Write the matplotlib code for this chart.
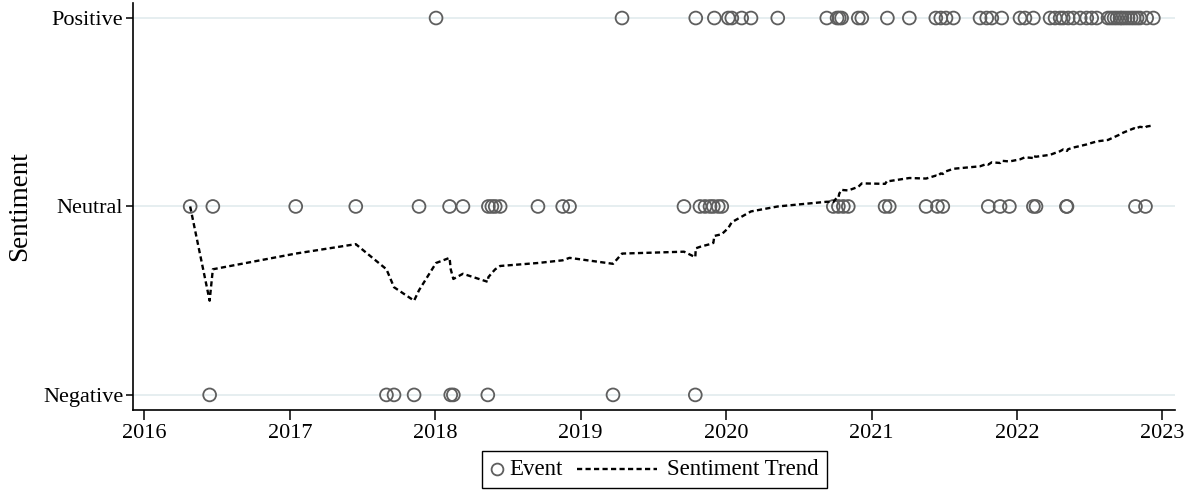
import numpy as np
import pandas as pd
import matplotlib
matplotlib.use("Agg")
import matplotlib.pyplot as plt
from matplotlib.lines import Line2D
from matplotlib.offsetbox import (AnchoredOffsetbox, DrawingArea, HPacker,
                                  TextArea)

plt.rcParams['font.family'] = ['Liberation Serif', 'DejaVu Serif']

# Event dates (decimal years)
negative_dates = [2016.448, 2017.664, 2017.716, 2017.854, 2018.106, 2018.124,
                  2018.361, 2019.222, 2019.788]
neutral_dates = [2016.314, 2016.470, 2017.040, 2017.453, 2017.888, 2018.098,
                 2018.190, 2018.365, 2018.389, 2018.412, 2018.446, 2018.706,
                 2018.876, 2018.923, 2019.710, 2019.820, 2019.855, 2019.889,
                 2019.912, 2019.946, 2019.970, 2020.737, 2020.772, 2020.806,
                 2020.840, 2021.093, 2021.122, 2021.375, 2021.453, 2021.490,
                 2021.803, 2021.884, 2021.948, 2022.113, 2022.131, 2022.340,
                 2022.344, 2022.815, 2022.884]
positive_dates = [2018.005, 2019.284, 2019.791, 2019.919, 2020.015, 2020.039,
                  2020.107, 2020.171, 2020.355, 2020.692, 2020.763, 2020.778,
                  2020.794, 2020.909, 2020.933, 2021.109, 2021.260, 2021.442,
                  2021.476, 2021.512, 2021.563, 2021.746, 2021.792, 2021.827,
                  2021.895, 2022.021, 2022.055, 2022.113, 2022.228, 2022.262,
                  2022.297, 2022.318, 2022.352, 2022.387, 2022.435, 2022.480,
                  2022.514, 2022.549, 2022.626, 2022.647, 2022.668, 2022.688,
                  2022.709, 2022.723, 2022.743, 2022.764, 2022.785, 2022.805,
                  2022.826, 2022.846, 2022.892, 2022.938]

sentiment_levels = [-1, 0, 1]
sentiment_labels = ["Negative", "Neutral", "Positive"]
year_ticks = [2016, 2017, 2018, 2019, 2020, 2021, 2022, 2023]

# Build event table
df = pd.concat([
    pd.DataFrame({"date": negative_dates, "sentiment": -1}),
    pd.DataFrame({"date": neutral_dates, "sentiment": 0}),
    pd.DataFrame({"date": positive_dates, "sentiment": 1}),
]).sort_values("date", kind="mergesort").reset_index(drop=True)
df["trend"] = df["sentiment"].expanding().mean()

EDGE = "#5e5e5e"
DASH = (0, (2.2, 1.4))

fig = plt.figure(figsize=(11.94, 4.9), dpi=100)
ax = fig.add_axes([0.1114, 0.1633, 0.8727, 0.8307])

for lv in sentiment_levels:
    ax.axhline(lv, color="#e6eef0", lw=1.4, zorder=0)

ax.scatter(df["date"], df["sentiment"], s=85, facecolors="none",
           edgecolors=EDGE, linewidths=1.3, zorder=3)
ax.plot(df["date"], df["trend"], color="black", lw=1.7,
        linestyle=DASH, zorder=4)

ax.set_xlim(2015.921, 2023.087)
ax.set_ylim(-1.08, 1.08)
ax.set_xticks(year_ticks)
ax.set_xticklabels([str(y) for y in year_ticks], fontsize=16)
ax.set_yticks(sentiment_levels)
ax.set_yticklabels(sentiment_labels, fontsize=16)
ax.set_ylabel("Sentiment", fontsize=19.5, labelpad=8)

for s in ["top", "right"]:
    ax.spines[s].set_visible(False)
for s in ["left", "bottom"]:
    ax.spines[s].set_linewidth(1.2)
    ax.spines[s].set_color("black")
ax.tick_params(axis="x", length=7, width=1.1, pad=3)
ax.tick_params(axis="y", length=5, width=1.1, pad=2)

# Legend: short marker key for Event, longer line key for the trend
da1 = DrawingArea(10, 12, 0, 0)
da1.add_artist(Line2D([5], [6], marker="o", linestyle="none",
                      markerfacecolor="none", markeredgecolor=EDGE,
                      markersize=8.5, markeredgewidth=1.3))
da2 = DrawingArea(58, 12, 0, 0)
da2.add_artist(Line2D([0, 58], [6, 6], color="black", lw=1.7, linestyle=DASH))
t1 = TextArea("Event", textprops=dict(fontsize=16.5))
t2 = TextArea("Sentiment Trend", textprops=dict(fontsize=16.5))
row = HPacker(children=[HPacker(children=[da1, t1], pad=0, sep=4, align="center"),
                        HPacker(children=[da2, t2], pad=0, sep=7, align="center")],
              pad=0, sep=10, align="center")
box = AnchoredOffsetbox(loc="center", child=row, pad=0.6, borderpad=0,
                        frameon=True, bbox_to_anchor=(0.548, 0.042),
                        bbox_transform=fig.transFigure)
box.patch.set_edgecolor("black")
box.patch.set_linewidth(1.0)
box.patch.set_boxstyle("square", pad=0)
fig.add_artist(box)

fig.savefig("out.png", dpi=100)
